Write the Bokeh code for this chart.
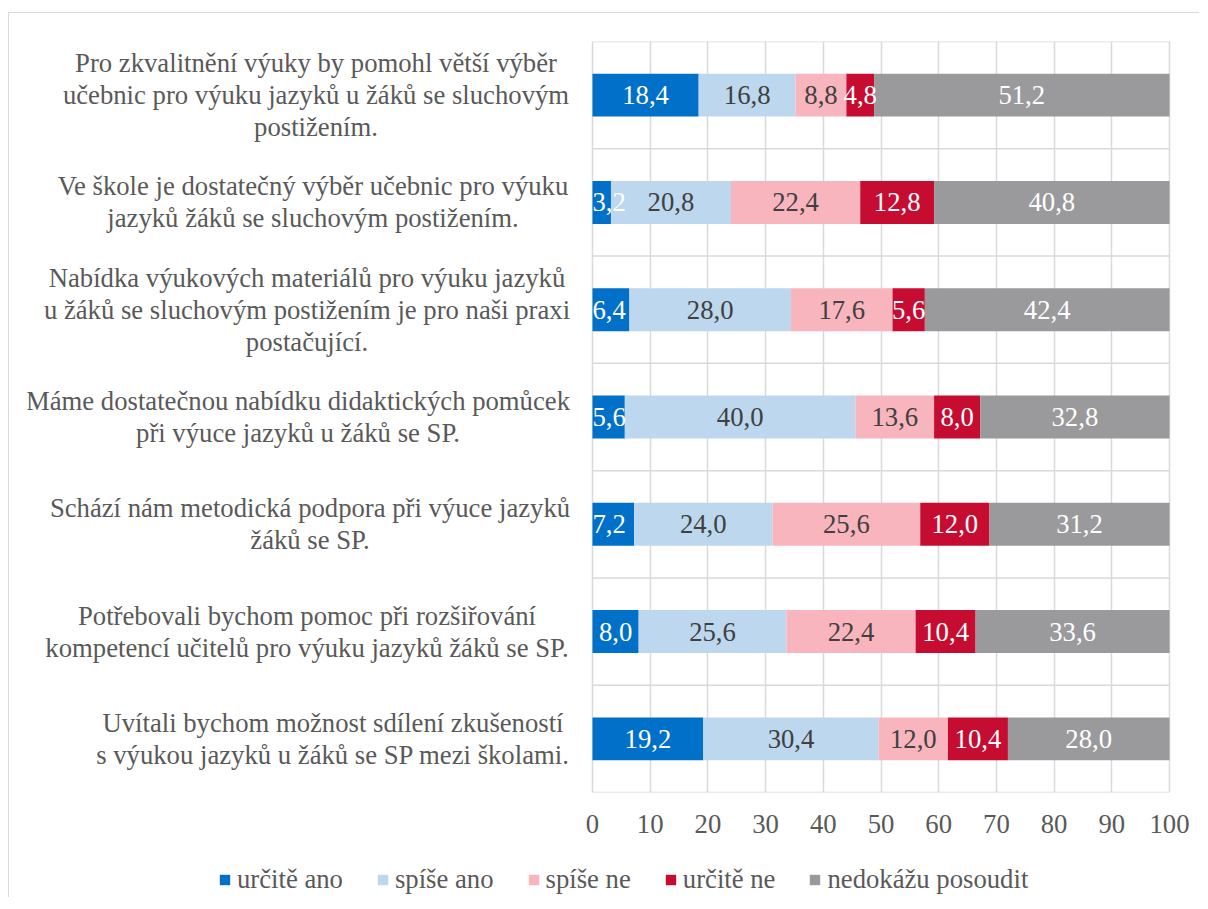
from bokeh.plotting import figure
from bokeh.layouts import column
from bokeh.models import (ColumnDataSource, FactorRange, Range1d, FixedTicker, LabelSet,
                          Legend, LegendItem)
from bokeh.core.properties import value
from bokeh.embed import file_html
from bokeh.resources import INLINE

# ---------------- data ----------------
categories = [
    "Pro zkvalitnění výuky by pomohl větší výběr\nučebnic pro výuku jazyků u žáků se sluchovým\npostižením.",
    "Ve škole je dostatečný výběr učebnic pro výuku\njazyků žáků se sluchovým postižením.",
    "Nabídka výukových materiálů pro výuku jazyků\nu žáků se sluchovým postižením je pro naši praxi\npostačující.",
    "Máme dostatečnou nabídku didaktických pomůcek\npři výuce jazyků u žáků se SP.",
    "Schází nám metodická podpora při výuce jazyků\nžáků se SP.",
    "Potřebovali bychom pomoc při rozšiřování\nkompetencí učitelů pro výuku jazyků žáků se SP.",
    "Uvítali bychom možnost sdílení zkušeností\ns výukou jazyků u žáků se SP mezi školami.",
]
series_names = ["určitě ano", "spíše ano", "spíše ne", "určitě ne", "nedokážu posoudit"]
urcite_ano = [18.4, 3.2, 6.4, 5.6, 7.2, 8.0, 19.2]
spise_ano = [16.8, 20.8, 28.0, 40.0, 24.0, 25.6, 30.4]
spise_ne = [8.8, 22.4, 17.6, 13.6, 25.6, 22.4, 12.0]
urcite_ne = [4.8, 12.8, 5.6, 8.0, 12.0, 10.4, 10.4]
nedokazu = [51.2, 40.8, 42.4, 32.8, 31.2, 33.6, 28.0]
x_ticks = [0, 10, 20, 30, 40, 50, 60, 70, 80, 90, 100]

# ---------------- style / layout ----------------
FONT = "Liberation Serif"
FS = "26.7px"
TEXT_GREY = "#595959"
GRID = "#d9d9d9"
bar_colors = ["#0070C9", "#BDD7EE", "#F8B5BE", "#C70C32", "#9A9A9C"]
label_colors = ["#ffffff", "#404040", "#404040", "#ffffff", "#ffffff"]

TOTAL_W = 1190
BORDER_L = 18
FRAME_W, FRAME_H = TOTAL_W - BORDER_L, 751
BORDER_T, BORDER_B = 28, 60
LEGEND_H = 45
VALUE_X0 = 565                     # frame px where value 0 lies
PLOT_W = 577                       # pixel width of the 0..100 value area
PX_PER_UNIT = PLOT_W / 100.0
X_START = -VALUE_X0 / PX_PER_UNIT
X_END = (FRAME_W - VALUE_X0) / PX_PER_UNIT
PAGE_X0 = 8 + 1.5 + BORDER_L       # page x of frame left edge
LINE_H = 32
# horizontal centre (page px) of each category text block
label_center_page = [316, 313, 307, 298, 310, 307, 333]
label_x = [(c - PAGE_X0 - VALUE_X0) / PX_PER_UNIT for c in label_center_page]

series_values = [urcite_ano, spise_ano, spise_ne, urcite_ne, nedokazu]
keys = ["s0", "s1", "s2", "s3", "s4"]
data = {"cat": categories}
for k, v in zip(keys, series_values):
    data[k] = v
source = ColumnDataSource(data)

p = figure(frame_width=FRAME_W, frame_height=FRAME_H,
           y_range=FactorRange(factors=list(reversed(categories))),
           x_range=Range1d(X_START, X_END),
           output_backend="svg", toolbar_location=None,
           min_border_left=BORDER_L, min_border_right=0,
           min_border_top=BORDER_T, min_border_bottom=BORDER_B)
p.background_fill_color = "white"
p.border_fill_color = "white"
p.outline_line_color = None

# grid
p.xgrid.ticker = FixedTicker(ticks=x_ticks)
p.xgrid.grid_line_color = GRID
p.xgrid.grid_line_width = 1.5
p.ygrid.visible = False
n = len(categories)
p.segment(x0=[0] * (n + 1), x1=[100] * (n + 1), y0=list(range(n + 1)), y1=list(range(n + 1)),
          line_color=GRID, line_width=1.5)

p.hbar_stack(keys, y="cat", height=0.4, color=bar_colors, line_width=0, source=source)

# data labels
cx, cy, ct, cc = [], [], [], []
lx, ly, lt, lc = [], [], [], []
for i, cat in enumerate(categories):
    left = 0.0
    for j, vals in enumerate(series_values):
        v = vals[i]
        mid = left + v / 2.0
        txt = f"{v:.1f}".replace(".", ",")
        if mid < 4.0:
            lx.append(0.0); ly.append(cat); lt.append(txt); lc.append(label_colors[j])
        else:
            cx.append(mid); cy.append(cat); ct.append(txt); cc.append(label_colors[j])
        left += v

p.text(x=cx, y=cy, text=ct, text_color=cc, text_align="center", text_baseline="middle",
       text_font=value(FONT), text_font_size=FS)
p.text(x=lx, y=ly, text=lt, text_color=lc, text_align="left", text_baseline="middle",
       text_font=value(FONT), text_font_size=FS)

# axes
p.yaxis.visible = False
p.xaxis.ticker = FixedTicker(ticks=x_ticks)
p.xaxis.axis_line_color = None
p.xaxis.major_tick_line_color = None
p.xaxis.minor_tick_line_color = None
p.xaxis.major_tick_out = 0
p.xaxis.major_tick_in = 0
p.xaxis.major_label_text_font = FONT
p.xaxis.major_label_text_font_size = FS
p.xaxis.major_label_text_color = TEXT_GREY
p.xaxis.major_label_standoff = 22

# category labels: one centred text per line
t_x, t_y, t_txt, t_off = [], [], [], []
for i, cat in enumerate(categories):
    lines = cat.split("\n")
    m = len(lines)
    for k, line in enumerate(lines):
        t_x.append(label_x[i]); t_y.append(cat); t_txt.append(line)
        t_off.append(-(k - (m - 1) / 2.0) * LINE_H)
cat_src = ColumnDataSource(dict(x=t_x, y=t_y, txt=t_txt, yo=t_off))
p.add_layout(LabelSet(x="x", y="y", text="txt", y_offset="yo", source=cat_src,
                      text_align="center", text_baseline="middle",
                      text_font=value(FONT), text_font_size=FS,
                      text_color=TEXT_GREY))

# legend strip (separate canvas directly below the chart); zero-length swatch glyphs
leg = figure(width=TOTAL_W, height=LEGEND_H, x_range=Range1d(0, 1), y_range=Range1d(0, 1),
             output_backend="svg", toolbar_location=None,
             x_axis_location=None, y_axis_location=None,
             min_border_left=0, min_border_right=0, min_border_top=0, min_border_bottom=0)
leg.outline_line_color = None
leg.grid.visible = False
leg_renderers = [leg.hbar(y=[0.5], left=[0], right=[0], height=0.0, fill_color=c,
                          line_width=0, line_color=None)
                 for c in bar_colors]
items = [LegendItem(label=nm, renderers=[r]) for nm, r in zip(series_names, leg_renderers)]
legend = Legend(items=items, location=(191, 2), orientation="horizontal",
                glyph_width=13, glyph_height=13, label_standoff=6, spacing=33,
                padding=0, margin=0, border_line_color=None, background_fill_alpha=0,
                label_text_font=FONT, label_text_font_size=FS,
                label_text_color=TEXT_GREY)
leg.add_layout(legend)

layout = column(p, leg, spacing=0,
                styles={"border-left": "1.5px solid #d9d9d9", "border-top": "1.5px solid #d9d9d9",
                        "margin-top": "12px", "margin-left": "8px"})

open("out.html", "w").write(file_html(layout, INLINE))
